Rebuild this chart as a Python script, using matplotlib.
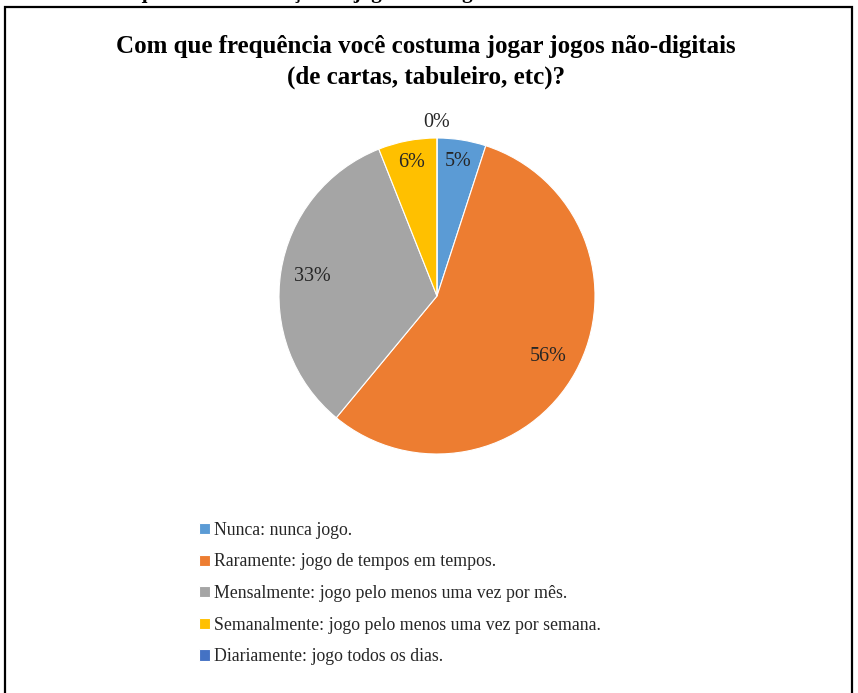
import matplotlib.pyplot as plt
from matplotlib.patches import Rectangle

# data
categories = [
    "Nunca: nunca jogo.",
    "Raramente: jogo de tempos em tempos.",
    "Mensalmente: jogo pelo menos uma vez por mês.",
    "Semanalmente: jogo pelo menos uma vez por semana.",
    "Diariamente: jogo todos os dias.",
]
percent = [5, 56, 33, 6, 0]
colors = ["#5B9BD5", "#ED7D31", "#A5A5A5", "#FFC000", "#4472C4"]
title = "Com que frequência você costuma jogar jogos não-digitais\n(de cartas, tabuleiro, etc)?"

plt.rcParams["font.family"] = ["Liberation Serif", "DejaVu Serif"]

W, H = 858, 693
fig = plt.figure(figsize=(W / 100, H / 100), dpi=100)

# frame around the chart (bottom edge falls outside the image)
fig.add_artist(Rectangle((5 / W, -0.05), (852 - 5) / W, 1.05 - 7 / H,
                         transform=fig.transFigure, fill=False,
                         edgecolor="black", linewidth=1.6))

# caption of the page, mostly cut off at the top
fig.text(0.0, 1.0 + 2 / H, "Gráfico 3 – Frequência de utilização de jogos não-digitais",
         fontsize=15, fontweight="bold", ha="left", va="baseline")

fig.text(426 / W, 1 - 62 / H, title, fontsize=18, fontweight="bold",
         ha="center", va="center", linespacing=1.4)

R = 158
cx, cy = 437, 296
ax = fig.add_axes([(cx - R) / W, (H - cy - R) / H, 2 * R / W, 2 * R / H])
wedges, texts, autotexts = ax.pie(
    percent, colors=colors, startangle=90, counterclock=False,
    autopct=lambda p: f"{p:.0f}%", pctdistance=0.8,
    wedgeprops=dict(edgecolor="white", linewidth=0.8),
    textprops=dict(fontsize=14.5, color="#262626"),
)
ax.set_xlim(-1, 1)
ax.set_ylim(-1, 1)

# push label distances like in the original
dist = [0.86, 0.8, 0.8, 0.86, 1.1]
for t, d in zip(autotexts, dist):
    x, y = t.get_position()
    t.set_position((x / 0.8 * d, y / 0.8 * d))

fig.legend(wedges, categories, loc="upper left",
           bbox_to_anchor=(190 / W, 1 - 513 / H), frameon=False,
           fontsize=12.8, handlelength=0.6, handleheight=0.6,
           handletextpad=0.25, labelspacing=0.82, borderpad=0, labelcolor="#262626")

fig.savefig("out.png", dpi=100)
